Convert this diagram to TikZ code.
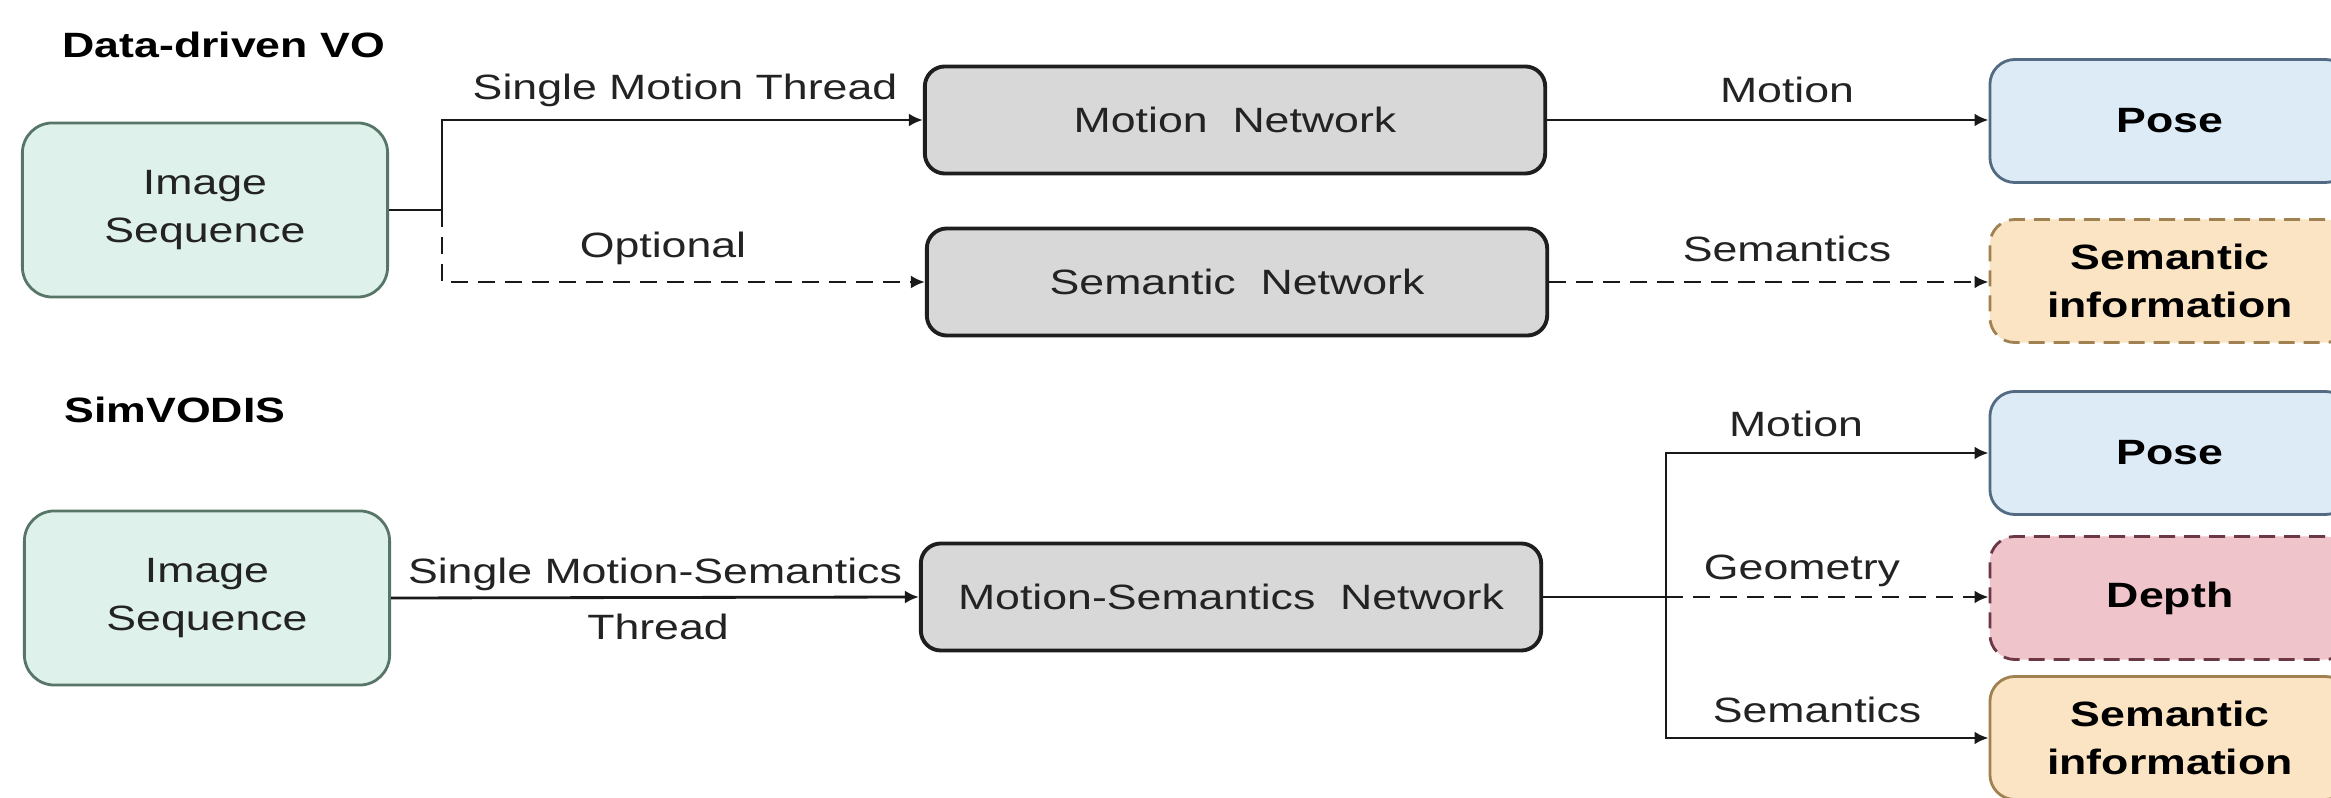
\documentclass[tikz,border=0pt]{standalone}
\usepackage{fontspec}
\setmainfont{Liberation Sans}[FakeStretch=1.27]
\usetikzlibrary{arrows.meta}
\usetikzlibrary{positioning}

\definecolor{imgfill}{RGB}{222,241,234}
\definecolor{imgline}{RGB}{88,118,104}
\definecolor{netfill}{RGB}{216,216,216}
\definecolor{netline}{RGB}{30,30,30}
\definecolor{posefill}{RGB}{221,235,247}
\definecolor{poseline}{RGB}{82,106,130}
\definecolor{semfill}{RGB}{251,228,195}
\definecolor{semline}{RGB}{160,130,82}
\definecolor{depthfill}{RGB}{240,196,203}
\definecolor{depthline}{RGB}{108,56,70}
\definecolor{txt}{RGB}{35,35,35}
\definecolor{arrowcol}{RGB}{25,25,25}

\begin{document}
\begin{tikzpicture}[x=0.01cm,y=-0.01cm,font=\fontsize{10}{13.5}\selectfont]
	\tikzset{inbox/.style = {shape=rectangle,draw=imgline,fill=imgfill,
			rounded corners=3mm,line width=0.8pt,minimum width=3.65cm,
			minimum height=1.74cm,align=center,text=txt}}
	\tikzset{netbox/.style = {shape=rectangle,draw=netline,fill=netfill,
			rounded corners=2mm,line width=1.1pt,minimum width=6.2cm,
			minimum height=1.07cm,text=txt}}
	\tikzset{outbox/.style = {shape=rectangle,rounded corners=2.5mm,
			line width=0.8pt,minimum width=3.6cm,minimum height=1.23cm,
			align=center,font=\fontsize{10}{13.5}\selectfont\bfseries}}
	\tikzset{posebox/.style = {outbox,draw=poseline,fill=posefill}}
	\tikzset{sembox/.style = {outbox,draw=semline,fill=semfill}}
	\tikzset{depthbox/.style = {outbox,draw=depthline,fill=depthfill}}
	\tikzset{dashbox/.style = {dash pattern=on 1.6mm off 0.9mm}}
	\tikzset{edge/.style = {-{Latex[length=1.4mm,width=1.3mm]},line width=0.8pt,draw=arrowcol}}
	\tikzset{edgedash/.style = {edge,dash pattern=on 1.7mm off 1mm}}
	\tikzset{head/.style = {anchor=base west,font=\fontsize{10}{13.5}\selectfont\bfseries}}
	\tikzset{lbl/.style = {anchor=base,text=txt}}
	
	\useasboundingbox (0,0) rectangle (2331,798);
	\fill[white] (0,0) rectangle (2331,798);
	
	% headings
	\node[head] (hdv) at (50,58) {Data-driven VO};
	\node[head] (hsim) at (52,423) {SimVODIS};
	
	% boxes
	\node[inbox] (img1) at (205,210) {Image\\Sequence};
	\node[netbox] (mnet) at (1235,120) {Motion\ \ Network};
	\node[netbox] (snet) at (1237,282) {Semantic\ \ Network};
	\node[posebox] (pose1) at (2170,121) {Pose};
	\node[sembox,dashbox] (sem1) at (2170,281) {Semantic\\information};
	
	\node[inbox] (img2) at (207,598) {Image\\Sequence};
	\node[netbox] (msnet) at (1231,597) {Motion-Semantics\ \ Network};
	\node[posebox] (pose2) at (2170,453) {Pose};
	\node[depthbox,dashbox] (depth) at (2170,598) {Depth};
	\node[sembox] (sem2) at (2170,738) {Semantic\\information};
	
	\coordinate (j1) at (442,210);
	\coordinate (j2) at (1666,597);
	
	%arrows
	\draw[edge] (img1.east) -- (j1) |- (mnet.west);
	\draw[edgedash] (j1) |- (snet.west);
	\draw[edge] (mnet.east) -- (pose1.west |- mnet.east);
	\draw[edgedash] (snet.east) -- (sem1.west |- snet.east);
	
	\draw[edge] (img2.east) -- (msnet.west);
	\draw[line width=0.8pt,draw=arrowcol] (msnet.east) -- (j2);
	\draw[edge] (j2) |- (pose2.west);
	\draw[edge] (j2) |- (sem2.west);
	\draw[edgedash] (j2) -- (depth.west |- j2);
	
	% labels
	\node[lbl] (lthread) at (685,100) {Single Motion Thread};
	\node[lbl] (lopt) at (663,258) {Optional};
	\node[lbl] (lmot1) at (1787,103) {Motion};
	\node[lbl] (lsem1) at (1787,262) {Semantics};
	\node[lbl] (lms) at (655,584) {Single Motion-Semantics};
	\node[lbl] (lthr) at (658,640) {Thread};
	\node[lbl] (lmot2) at (1796,437) {Motion};
	\node[lbl] (lgeo) at (1802,580) {Geometry};
	\node[lbl] (lsem2) at (1817,723) {Semantics};
\end{tikzpicture}
\end{document}
